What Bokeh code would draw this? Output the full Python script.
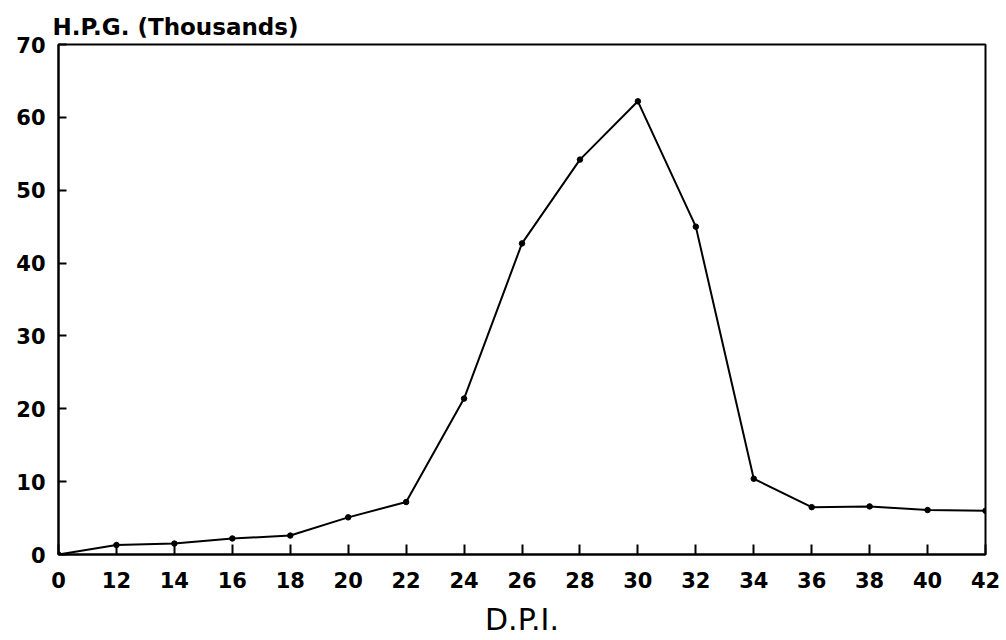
from bokeh.plotting import figure
from bokeh.models import Range1d, FixedTicker, ColumnDataSource
from bokeh.embed import file_html
from bokeh.resources import INLINE

# Data
dpi_labels = ["0", "12", "14", "16", "18", "20", "22", "24", "26", "28",
              "30", "32", "34", "36", "38", "40", "42"]
hpg_thousands = [0.0, 1.3, 1.5, 2.2, 2.6, 5.1, 7.2, 21.4, 42.7, 54.2,
                 62.2, 45.0, 10.4, 6.5, 6.6, 6.1, 6.0]
y_ticks = [0, 10, 20, 30, 40, 50, 60, 70]

positions = list(range(len(dpi_labels)))
source = ColumnDataSource(data=dict(x=positions, y=hpg_thousands, label=dpi_labels))

p = figure(width=1000, height=640, output_backend="svg", toolbar_location=None,
           x_range=Range1d(0, len(dpi_labels) - 1), y_range=Range1d(0, 70),
           title="H.P.G. (Thousands)")

p.min_border_left = 58
p.min_border_right = 15
p.min_border_top = 44
p.min_border_bottom = 86

p.line("x", "y", source=source, line_color="black", line_width=2)
p.scatter("x", "y", source=source, size=5.5, color="black")

p.xgrid.visible = False
p.ygrid.visible = False
p.outline_line_color = "black"
p.outline_line_width = 2
p.background_fill_color = "white"
p.border_fill_color = "white"

font = "DejaVu Sans"

p.title.text_font = font
p.title.text_font_size = "23px"
p.title.text_font_style = "bold"
p.title.text_color = "black"
p.title.align = "left"
p.title.offset = -6
p.title.standoff = 9

xa = p.xaxis[0]
xa.ticker = FixedTicker(ticks=positions)
xa.major_label_overrides = {i: lab for i, lab in zip(positions, dpi_labels)}
xa.major_tick_in = 10
xa.major_tick_out = 0
xa.minor_tick_line_color = None
xa.major_tick_line_width = 2
xa.axis_line_width = 2
xa.major_label_text_font = font
xa.major_label_text_font_size = "21px"
xa.major_label_text_font_style = "bold"
xa.major_label_text_color = "black"
xa.major_label_standoff = 17
xa.axis_label = "D.P.I."
xa.axis_label_text_font = font
xa.axis_label_text_font_size = "30px"
xa.axis_label_text_font_style = "normal"
xa.axis_label_text_color = "black"
xa.axis_label_standoff = 11

ya = p.yaxis[0]
ya.ticker = FixedTicker(ticks=y_ticks)
ya.major_tick_in = 8
ya.major_tick_out = 0
ya.minor_tick_line_color = None
ya.major_tick_line_width = 2
ya.axis_line_width = 2
ya.major_label_text_font = font
ya.major_label_text_font_size = "21px"
ya.major_label_text_font_style = "bold"
ya.major_label_text_color = "black"
ya.major_label_standoff = 13

open("out.html", "w").write(file_html(p, INLINE))
